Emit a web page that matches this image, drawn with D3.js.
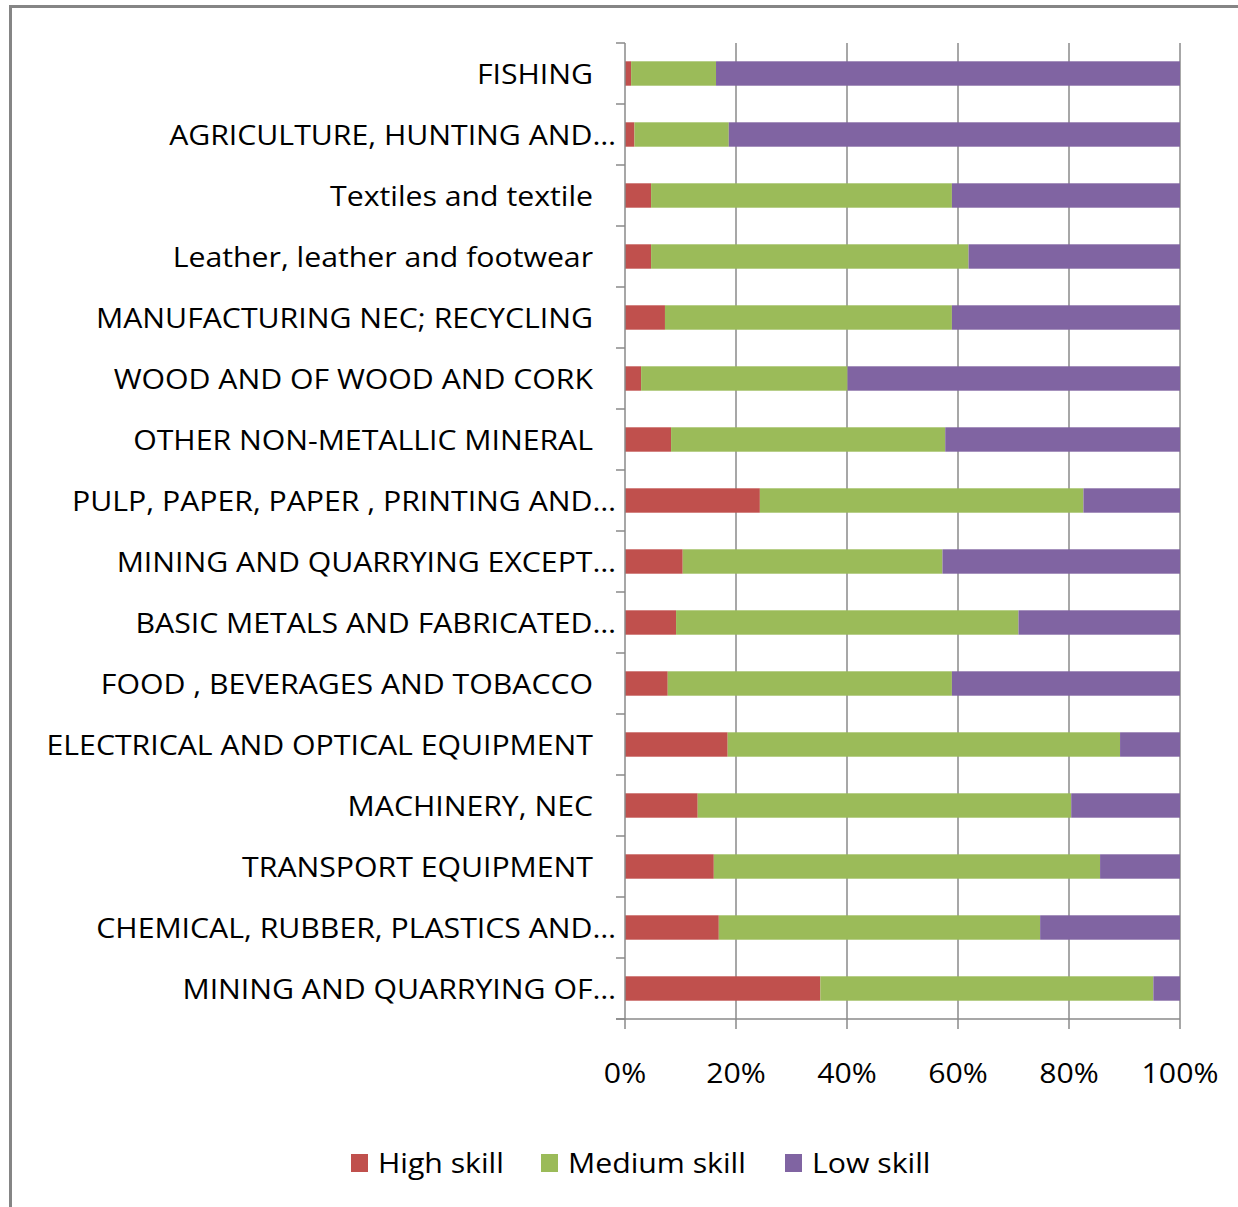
<!DOCTYPE html>
<html>
<head>
<meta charset="utf-8">
<script src="https://cdn.jsdelivr.net/npm/d3@7"></script>
<style>
  body { margin: 0; background: #fff; }
  svg text { font-family: "Open Sans", sans-serif; fill: #000; font-size: 28px; }
</style>
</head>
<body>
<div id="chart"></div>
<script>
// Categories, top to bottom
const categories = [
    "FISHING",
    "AGRICULTURE, HUNTING AND…",
    "Textiles and textile",
    "Leather, leather and footwear",
    "MANUFACTURING NEC; RECYCLING",
    "WOOD AND OF WOOD AND CORK",
    "OTHER NON-METALLIC MINERAL",
    "PULP, PAPER, PAPER , PRINTING AND…",
    "MINING AND QUARRYING EXCEPT…",
    "BASIC METALS AND FABRICATED…",
    "FOOD , BEVERAGES AND TOBACCO",
    "ELECTRICAL AND OPTICAL EQUIPMENT",
    "MACHINERY, NEC",
    "TRANSPORT EQUIPMENT",
    "CHEMICAL, RUBBER, PLASTICS AND…",
    "MINING AND QUARRYING OF…"
];

// Shares in percent
const highSkill   = [1.1, 1.7, 4.7, 4.7, 7.2, 2.9, 8.3, 24.3, 10.4, 9.2, 7.7, 18.5, 13.1, 16.0, 16.9, 35.2];
const mediumSkill = [15.3, 17.0, 54.2, 57.2, 51.7, 37.2, 49.4, 58.3, 46.8, 61.7, 51.2, 70.7, 67.3, 69.6, 57.9, 60.0];
const lowSkill    = [83.6, 81.3, 41.1, 38.1, 41.1, 59.9, 42.3, 17.4, 42.8, 29.1, 41.1, 10.8, 19.6, 14.4, 25.2, 4.8];

const seriesNames = ["High skill", "Medium skill", "Low skill"];
const seriesColors = ["#C0504D", "#9BBB59", "#8064A2"];
const xTicks = [0, 20, 40, 60, 80, 100];

const W = 1238, H = 1207;
const margin = {top: 43, right: 58, bottom: 188, left: 625};
const width = W - margin.left - margin.right,
      height = H - margin.top - margin.bottom;
const stretch = 1.08; // text in the original is a bit wider than the font

const svg = d3.select("#chart").append("svg")
    .attr("width", W)
    .attr("height", H);

// outer chart frame (runs off the right and bottom edges)
svg.append("rect")
    .attr("x", 10.5).attr("y", 6.5)
    .attr("width", W + 20).attr("height", H + 20)
    .attr("fill", "none")
    .attr("stroke", "#858585")
    .attr("stroke-width", 3);

const g = svg.append("g")
    .attr("transform", `translate(${margin.left},${margin.top})`);

// Build stacked table
const rows = categories.map((c, i) => ({
    cat: c,
    "High skill": highSkill[i],
    "Medium skill": mediumSkill[i],
    "Low skill": lowSkill[i]
}));
const stacked = d3.stack().keys(seriesNames)(rows);

const x = d3.scaleLinear().domain([0, 100]).range([0, width]);
const y = d3.scaleBand().domain(categories).range([0, height]);
const barH = y.bandwidth() * 0.4;

// gridlines
g.append("g")
    .selectAll("line")
    .data(xTicks.slice(1))
  .enter().append("line")
    .attr("x1", d => x(d)).attr("x2", d => x(d))
    .attr("y1", 0).attr("y2", height)
    .attr("stroke", "#8a8a8a")
    .attr("stroke-width", 1.5);

// bars
g.selectAll(".series")
    .data(stacked)
  .enter().append("g")
    .attr("class", "series")
    .attr("fill", (d, i) => seriesColors[i])
  .selectAll("rect")
    .data(d => d)
  .enter().append("rect")
    .attr("x", d => x(d[0]))
    .attr("width", d => x(d[1]) - x(d[0]))
    .attr("y", d => y(d.data.cat) + (y.bandwidth() - barH) / 2)
    .attr("height", barH);

// y axis: line + outside ticks on band boundaries
const yAxis = g.append("g");
yAxis.append("line")
    .attr("x1", 0).attr("x2", 0).attr("y1", 0).attr("y2", height)
    .attr("stroke", "#8a8a8a").attr("stroke-width", 1.5);
yAxis.selectAll(".tick")
    .data(d3.range(categories.length + 1))
  .enter().append("line")
    .attr("x1", -9).attr("x2", 0)
    .attr("y1", d => d * y.step()).attr("y2", d => d * y.step())
    .attr("stroke", "#8a8a8a").attr("stroke-width", 1.5);
yAxis.selectAll(".lab")
    .data(categories)
  .enter().append("text")
    .attr("transform", d => `translate(${d.endsWith("…") ? -9 : -32},${y(d) + y.bandwidth() / 2}) scale(${stretch},1)`)
    .attr("dy", "0.36em")
    .attr("text-anchor", "end")
    .text(d => d);

// x axis
const xAxis = g.append("g").attr("transform", `translate(0,${height})`);
xAxis.append("line")
    .attr("x1", -9).attr("x2", width).attr("y1", 0).attr("y2", 0)
    .attr("stroke", "#8a8a8a").attr("stroke-width", 1.5);
xAxis.selectAll(".tick")
    .data(xTicks)
  .enter().append("line")
    .attr("x1", d => x(d)).attr("x2", d => x(d))
    .attr("y1", 0).attr("y2", 10)
    .attr("stroke", "#8a8a8a").attr("stroke-width", 1.5);
xAxis.selectAll(".lab")
    .data(xTicks)
  .enter().append("text")
    .attr("transform", d => `translate(${x(d)},64) scale(${stretch},1)`)
    .attr("text-anchor", "middle")
    .text(d => d + "%");

// legend
const legendX = [351, 541, 785];
const legend = svg.append("g").attr("transform", "translate(0,1163)");
const items = legend.selectAll(".item")
    .data(seriesNames)
  .enter().append("g")
    .attr("transform", (d, i) => `translate(${legendX[i]},0)`);
items.append("rect")
    .attr("x", 0).attr("y", -9)
    .attr("width", 17).attr("height", 18)
    .attr("fill", (d, i) => seriesColors[i]);
items.append("text")
    .attr("transform", `translate(27,0) scale(${stretch},1)`)
    .attr("dy", "0.36em")
    .text(d => d);
</script>
</body>
</html>
